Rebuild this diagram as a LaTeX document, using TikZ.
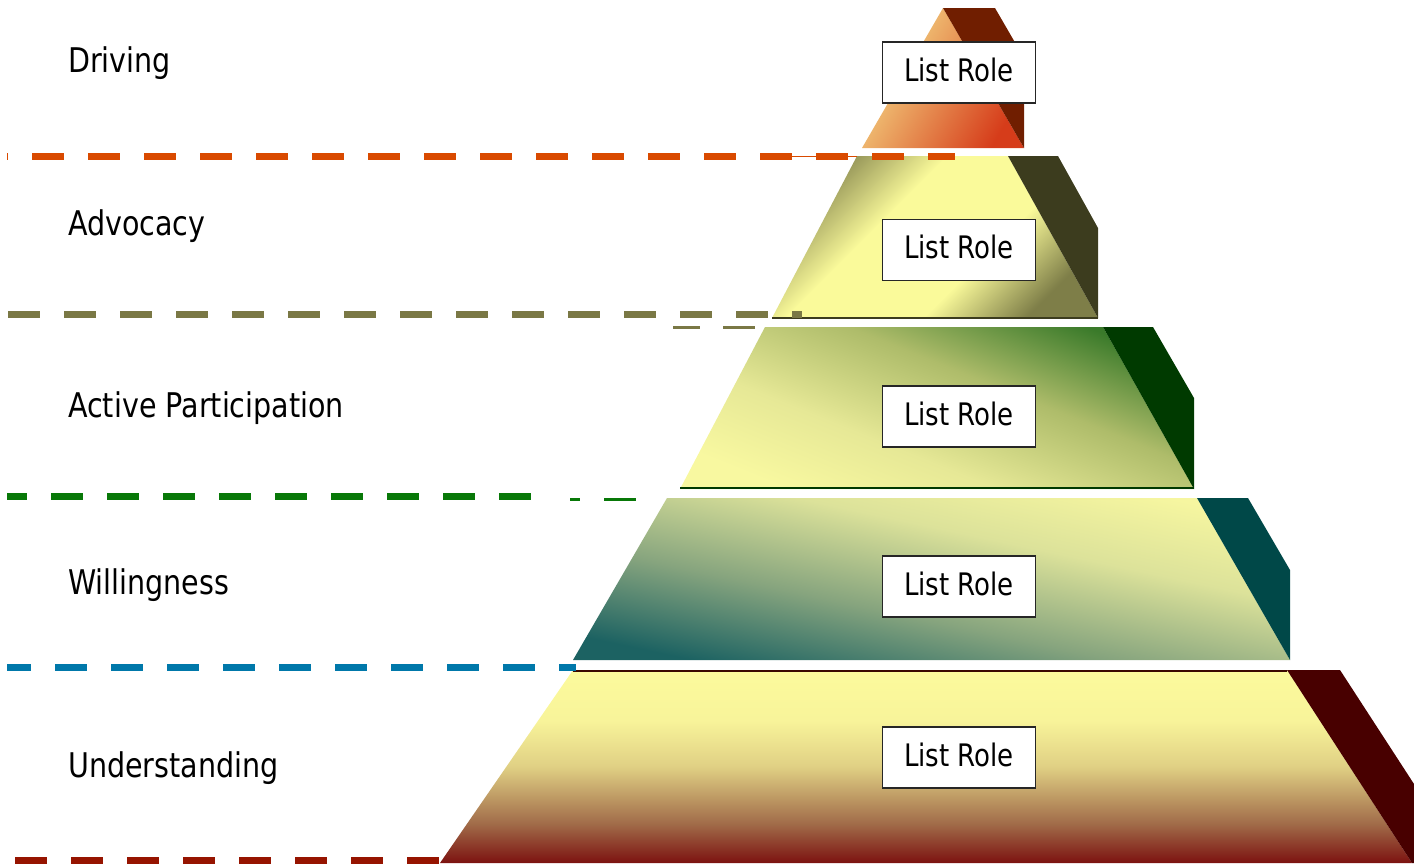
\documentclass[tikz,border=0pt]{standalone}
\usepackage{fontspec}
\setmainfont{DejaVu Sans}[FakeStretch=0.84]
\usetikzlibrary{shadings}

% palette
\definecolor{dashOrange}{HTML}{D94A00}
\definecolor{dashOlive}{HTML}{7A7845}
\definecolor{dashGreen}{HTML}{087808}
\definecolor{dashBlue}{HTML}{0078AA}
\definecolor{dashRed}{HTML}{961400}

\definecolor{oneLight}{HTML}{F6E08A}
\definecolor{oneDeep}{HTML}{D63C1A}
\definecolor{oneSide}{HTML}{701E00}

\definecolor{twoOlive}{HTML}{8C8C52}
\definecolor{twoYellow}{HTML}{FAFA9A}
\definecolor{twoOliveB}{HTML}{7E7E48}
\definecolor{twoSide}{HTML}{3C3C1E}

\definecolor{threeGreen}{HTML}{3A7A2A}
\definecolor{threeMid}{HTML}{AEBC6A}
\definecolor{threeSoft}{HTML}{E6E896}
\definecolor{threePale}{HTML}{F8F8A0}
\definecolor{threeSide}{HTML}{003A00}

\definecolor{fourYellow}{HTML}{F6F6A0}
\definecolor{fourPale}{HTML}{DCE29A}
\definecolor{fourSage}{HTML}{86A47E}
\definecolor{fourTeal}{HTML}{1C6262}
\definecolor{fourSide}{HTML}{004848}

\definecolor{fiveYellow}{HTML}{FCFA9C}
\definecolor{fiveYellowB}{HTML}{F8F49A}
\definecolor{fiveMid}{HTML}{E0D084}
\definecolor{fiveTan}{HTML}{A06A48}
\definecolor{fiveRed}{HTML}{7C1210}
\definecolor{fiveSide}{HTML}{480000}
\definecolor{fiveRim}{HTML}{3A0800}

% face shadings
\pgfdeclareverticalshading{advocacyface}{100bp}{%
  color(0bp)=(twoOliveB); color(25bp)=(twoOliveB); color(40bp)=(twoYellow);
  color(60bp)=(twoYellow); color(75bp)=(twoOlive); color(100bp)=(twoOlive)}
\pgfdeclareverticalshading{activeface}{100bp}{%
  color(0bp)=(threePale); color(25bp)=(threePale); color(40bp)=(threeSoft);
  color(58bp)=(threeMid); color(75bp)=(threeGreen); color(100bp)=(threeGreen)}
\pgfdeclareverticalshading{willingface}{100bp}{%
  color(0bp)=(fourTeal); color(25bp)=(fourTeal); color(42bp)=(fourSage);
  color(60bp)=(fourPale); color(75bp)=(fourYellow); color(100bp)=(fourYellow)}
\pgfdeclareverticalshading{understandingface}{100bp}{%
  color(0bp)=(fiveRed); color(25bp)=(fiveRed); color(35bp)=(fiveTan);
  color(50bp)=(fiveMid); color(62bp)=(fiveYellowB); color(75bp)=(fiveYellow);
  color(100bp)=(fiveYellow)}

\begin{document}
\begin{tikzpicture}[x=1pt,y=-1pt,
  rolebox/.style={draw=black!85, line width=1.3pt, fill=white,
    minimum width=153pt, minimum height=61pt, inner sep=0pt,
    text depth=6pt, font=\fontsize{31}{31}\selectfont},
  lbl/.style={anchor=base west, inner sep=0pt,
    font=\fontsize{34}{34}\selectfont},
  guide/.style={line width=7pt, dash pattern=on 32pt off 24pt},
  faint/.style={line width=3pt}]

\useasboundingbox (0,0) rectangle (1414,863);

% ---- layer 1: Driving (apex) ----
\shade[top color=oneLight, bottom color=oneDeep, shading angle=60]
  (943,8) -- (1024,148) -- (862,148) -- cycle;
\fill[oneSide] (943,8) -- (995,8) -- (1024,58) -- (1024,148) -- cycle;

% ---- layer 2: Advocacy ----
\shade[shading=advocacyface, shading angle=45]
  (857,156) -- (1008,156) -- (1098,318) -- (772,318) -- cycle;
\fill[twoSide] (1008,156) -- (1058,156) -- (1098,228) -- (1098,318) -- cycle;
\draw[twoSide, line width=2pt] (772,317.5) -- (1098,317.5);

% ---- layer 3: Active Participation ----
\shade[shading=activeface, shading angle=-22]
  (765,327) -- (1103,327) -- (1194,489) -- (680,489) -- cycle;
\fill[threeSide] (1103,327) -- (1153,327) -- (1194,398) -- (1194,489) -- cycle;
\draw[threeSide, line width=2pt] (680,488) -- (1194,488);

% ---- layer 4: Willingness ----
\shade[shading=willingface, shading angle=-12]
  (667,498) -- (1197,498) -- (1290,660) -- (573,660) -- cycle;
\fill[fourSide] (1197,498) -- (1248,498) -- (1290,570) -- (1290,660) -- cycle;

% ---- layer 5: Understanding ----
\shade[shading=understandingface]
  (573,670) -- (1287,670) -- (1412,863) -- (440,863) -- cycle;
\fill[fiveSide] (1287,670) -- (1340,670) -- (1414,784) -- (1414,863) -- (1412,863) -- cycle;
\draw[fiveRim, line width=2pt] (573,670.5) -- (1287,670.5);

% ---- level separators ----
\coordinate (oS) at (7,156.5);   \coordinate (oE) at (955,156.5);
\coordinate (vS) at (8,314);     \coordinate (vE) at (802,314);
\coordinate (gS) at (7,496.5);   \coordinate (gE) at (531,496.5);
\coordinate (bS) at (7,667.5);   \coordinate (bE) at (576,667.5);
\coordinate (rS) at (15,860);    \coordinate (rE) at (440,860);

\draw[dashOrange, line width=1.5pt] (790,156.5) -- (857,156.5);
\draw[guide, dashOrange, dash phase=31pt] (oS) -- (oE);
\draw[guide, dashOlive] (vS) -- (vE);
\draw[faint, dashOlive] (673,327) -- (700,327);
\draw[faint, dashOlive] (723,327) -- (755,327);
\draw[guide, dashGreen, dash phase=12pt] (gS) -- (gE);
\draw[faint, dashGreen] (570,499) -- (580,499);
\draw[faint, dashGreen] (604,499) -- (636,499);
\draw[guide, dashBlue, dash phase=8pt] (bS) -- (bE);
\draw[guide, dashRed] (rS) -- (rE);

% ---- level names ----
\node[lbl] (lDriving) at (68,72) {Driving};
\node[lbl] (lAdvocacy) at (68,235) {Advocacy};
\node[lbl] (lActive) at (68,417) {Active Participation};
\node[lbl] (lWilling) at (68,594) {Willingness};
\node[lbl] (lUnder) at (68,777) {Understanding};

% ---- role boxes ----
\node[rolebox] (rDriving) at (959,72.5) {List Role};
\node[rolebox] (rAdvocacy) at (959,250) {List Role};
\node[rolebox] (rActive) at (959,416.5) {List Role};
\node[rolebox] (rWilling) at (959,586.5) {List Role};
\node[rolebox] (rUnder) at (959,757.5) {List Role};
\end{tikzpicture}
\end{document}
